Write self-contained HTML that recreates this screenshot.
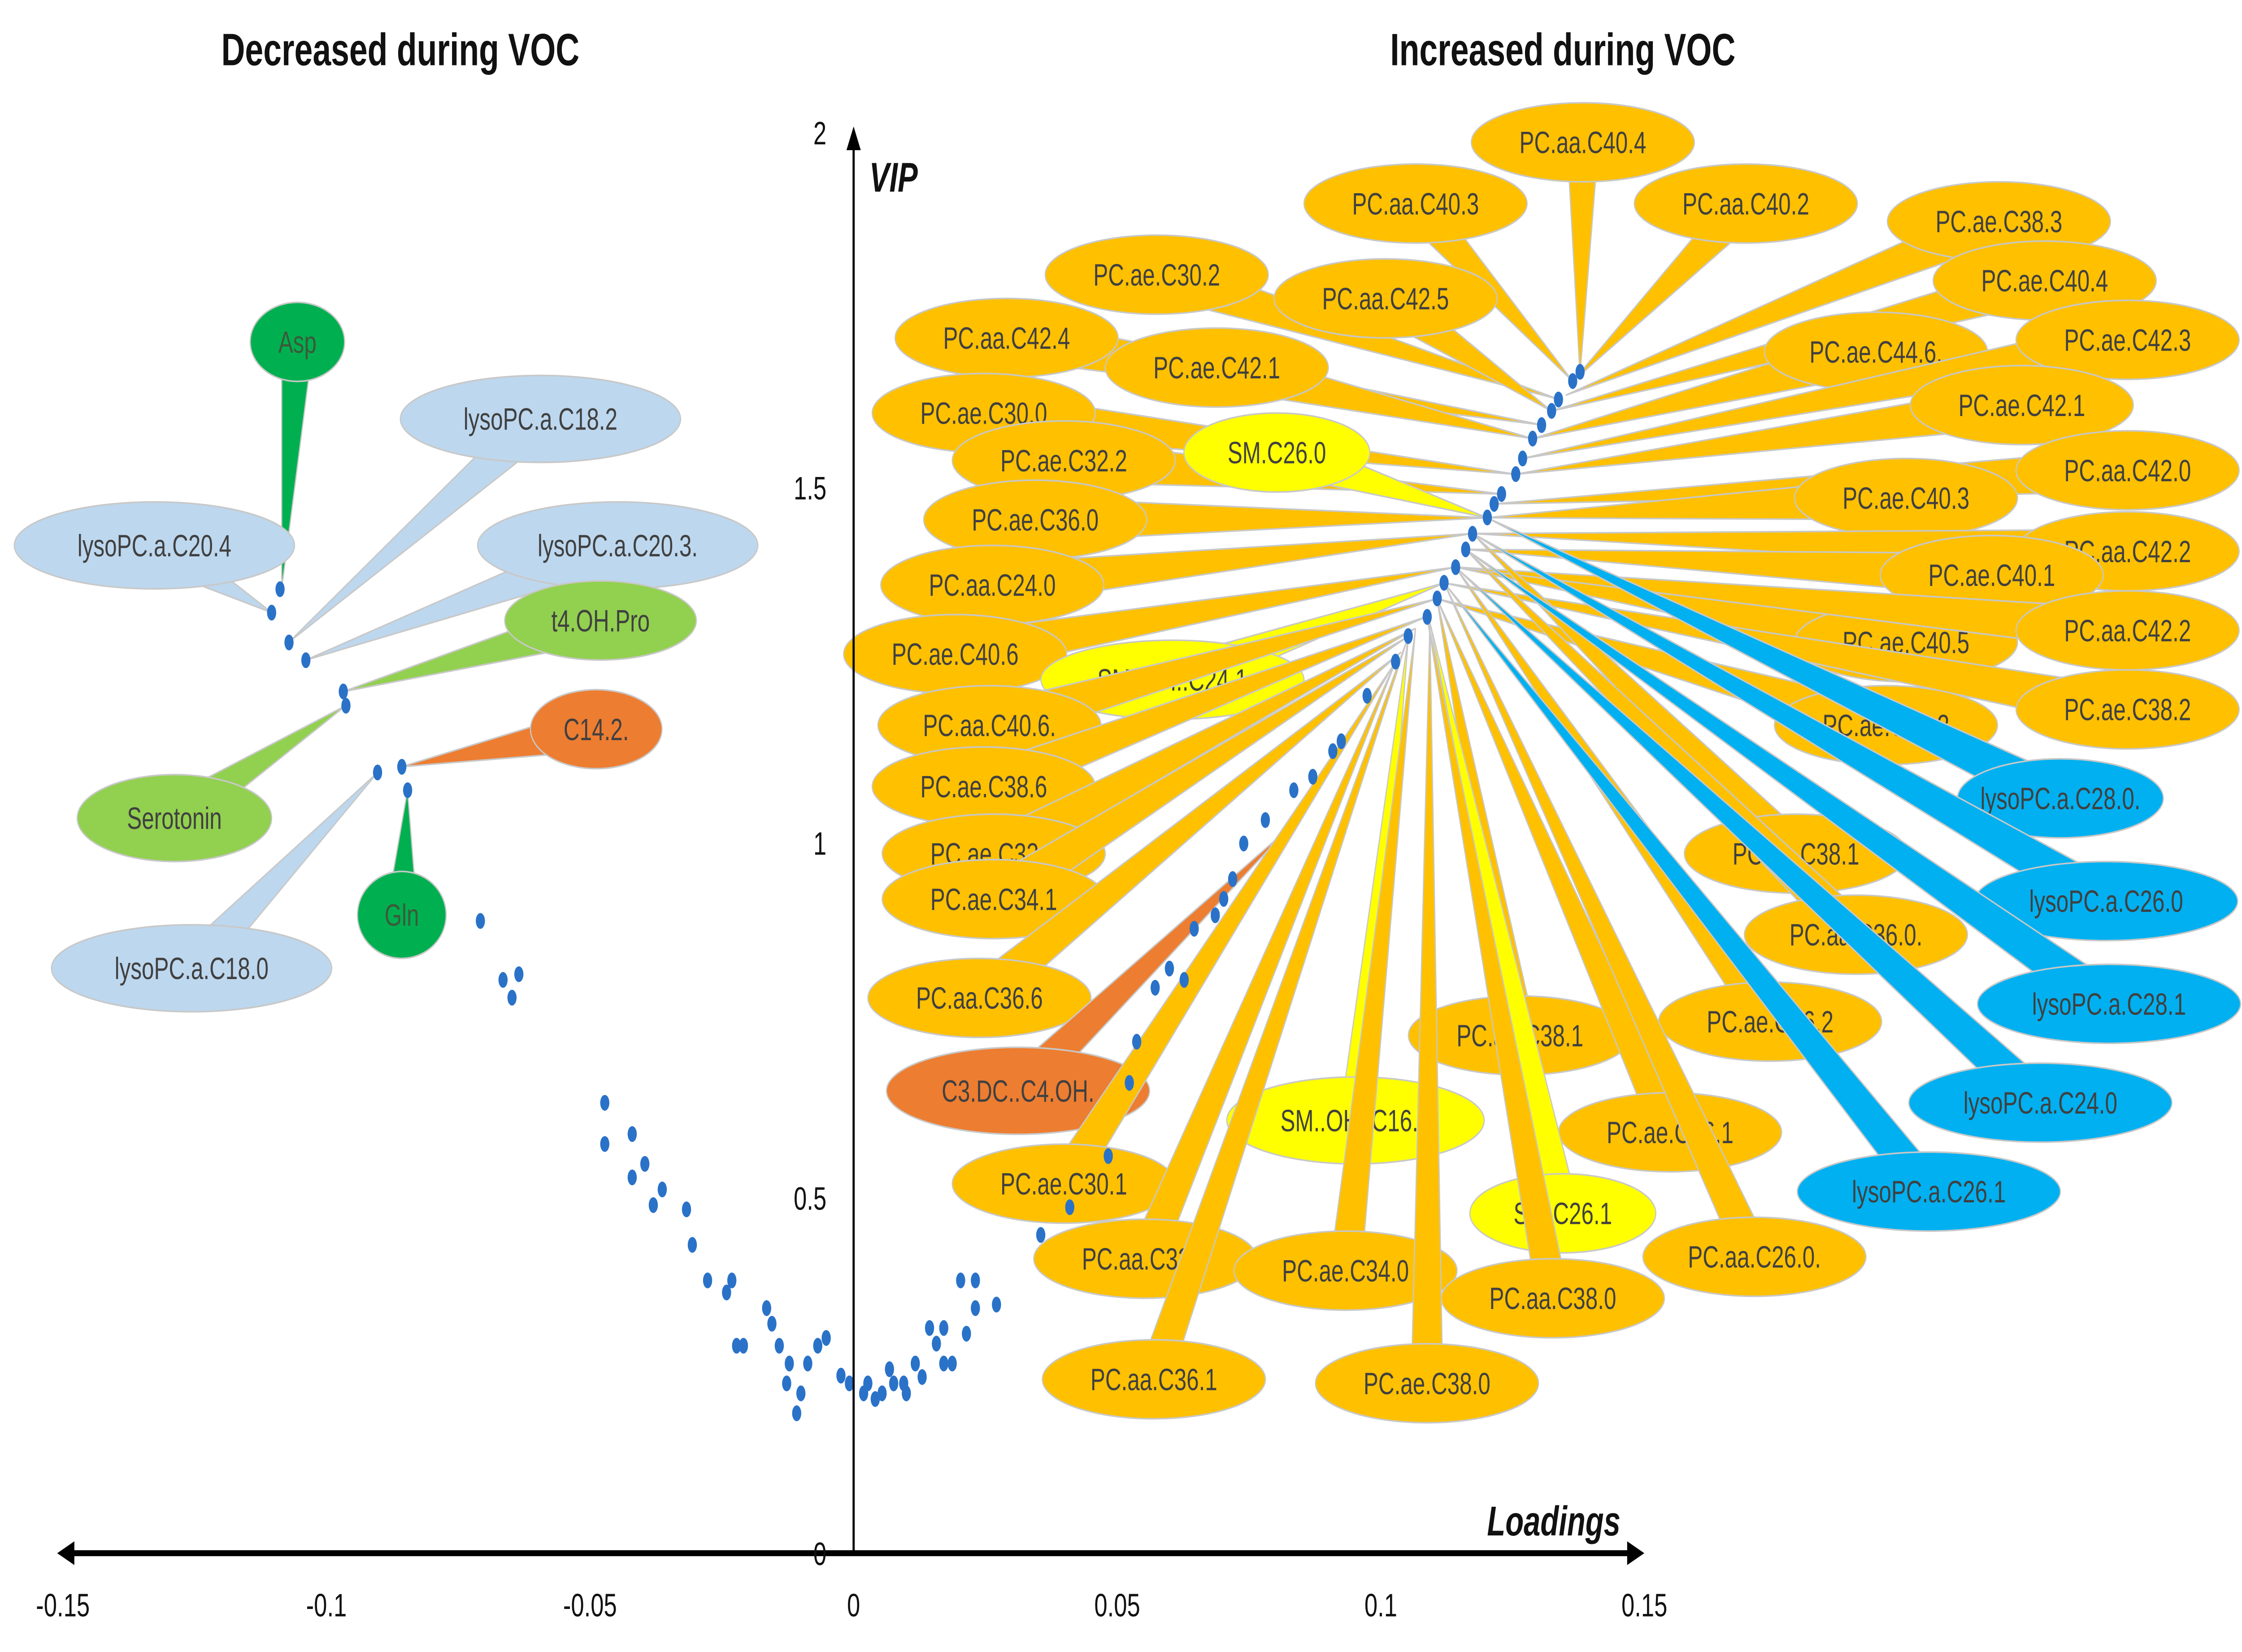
<!DOCTYPE html>
<html><head><meta charset="utf-8"><style>
html,body{margin:0;padding:0;background:#fff;width:100%;height:100%;overflow:hidden;}
#chart{display:block;position:fixed;left:0;top:0;width:100vw;height:100vh;}
text{font-family:"Liberation Sans",sans-serif;}
</style></head><body>
<svg id="chart" viewBox="0 0 1568 836" preserveAspectRatio="none" xmlns="http://www.w3.org/2000/svg">
<rect x="0" y="0" width="1568" height="836" fill="#fff"/>
<g id="labels-layer"></g>
<g id="points-layer"></g>
<g id="axes-layer"></g>
<text x="280" y="33" text-anchor="middle" font-size="23" font-weight="bold" fill="#111">Decreased during VOC</text>
<text x="1093" y="33" text-anchor="middle" font-size="23" font-weight="bold" fill="#111">Increased during VOC</text>
<text x="608" y="97" font-size="21" font-weight="bold" font-style="italic" fill="#111">VIP</text>
<text x="1040" y="777" font-size="21" font-weight="bold" font-style="italic" fill="#111">Loadings</text>
</svg>
<script>
const xTicks = [-0.15, -0.1, -0.05, 0, 0.05, 0.1, 0.15];
const xTickLabels = ["-0.15", "-0.1", "-0.05", "0", "0.05", "0.1", "0.15"];
const yTicks = [0, 0.5, 1, 1.5, 2];
const yTickLabels = ["0", "0.5", "1", "1.5", "2"];
const loadings = [-0.1088,-0.1104,-0.1071,-0.1039,-0.0968,-0.0963,-0.0903,-0.0857,-0.0846,-0.0708,-0.0665,-0.0648,-0.0635,-0.0472,-0.0472,-0.0420,-0.0420,-0.0396,-0.0380,-0.0363,-0.0317,-0.0306,-0.0277,-0.0241,-0.0231,-0.0222,-0.0209,-0.0165,-0.0155,-0.0141,-0.0127,-0.0122,-0.0100,-0.0068,-0.0052,-0.0087,-0.0108,-0.0024,-0.0008,0.0019,0.0027,0.0041,0.0054,0.0068,0.0076,0.0095,0.0117,0.0100,0.0130,0.0144,0.0157,0.0171,0.0171,0.0187,0.0214,0.0203,0.0231,0.0231,0.0271,0.0355,0.0410,0.0483,0.0523,0.0537,0.0572,0.0599,0.0627,0.0646,0.0686,0.0702,0.0719,0.0740,0.0781,0.0835,0.0871,0.0909,0.0925,0.0974,0.1028,0.1052,0.1088,0.1107,0.1120,0.1142,0.1161,0.1174,0.1202,0.1215,0.1229,0.1256,0.1269,0.1288,0.1305,0.1324,0.1337,0.1364,0.1378];
const vip = [1.357,1.324,1.282,1.257,1.213,1.193,1.099,1.107,1.074,0.890,0.807,0.782,0.815,0.634,0.576,0.590,0.529,0.548,0.490,0.512,0.484,0.434,0.384,0.367,0.384,0.292,0.292,0.345,0.323,0.292,0.239,0.267,0.225,0.292,0.303,0.267,0.197,0.250,0.239,0.225,0.239,0.217,0.225,0.259,0.239,0.239,0.267,0.225,0.248,0.317,0.295,0.317,0.267,0.267,0.309,0.384,0.384,0.345,0.350,0.448,0.487,0.559,0.662,0.720,0.796,0.823,0.807,0.879,0.898,0.921,0.949,0.999,1.032,1.074,1.093,1.129,1.143,1.207,1.255,1.291,1.318,1.344,1.366,1.388,1.413,1.435,1.458,1.477,1.491,1.519,1.541,1.569,1.588,1.608,1.624,1.650,1.663];

const NS = "http://www.w3.org/2000/svg";
const xScale = v => 597 + v * 3687;
const yScale = v => 786 - v * 359.5;
function mk(tag, attrs, parent){ const e=document.createElementNS(NS,tag); for(const k in attrs) e.setAttribute(k, attrs[k]); parent.appendChild(e); return e; }

const OR="#FFC000", LB="#BDD7EE", BB="#00B0F0", DG="#00B050", LG="#92D050", RO="#ED7D31", YE="#FFFF00";
const callouts = [
 ["Asp",208,173,33,20,DG,197,298],
 ["lysoPC.a.C18.2",378,212,98,22,LB,202,325],
 ["lysoPC.a.C20.4",108,276,98,22,LB,190,310],
 ["lysoPC.a.C20.3.",432,276,98,22,LB,214,334],
 ["t4.OH.Pro",420,314,67,20,LG,240,350],
 ["C14.2.",417,369,46,20,RO,281,388],
 ["Serotonin",122,414,68,22,LG,242,357],
 ["Gln",281,463,31,22,DG,285,400],
 ["lysoPC.a.C18.0",134,490,98,22,LB,264,391],
 ["PC.aa.C40.4",1107,72,78,20,OR,1105,190],
 ["PC.aa.C40.3",990,103,78,20,OR,1100,193],
 ["PC.aa.C40.2",1221,103,78,20,OR,1100,193],
 ["PC.ae.C38.3",1398,112,78,20,OR,1095,200],
 ["PC.ae.C30.2",809,139,78,20,OR,1090,202],
 ["PC.aa.C42.5",969,151,78,20,OR,1085,208],
 ["PC.ae.C40.4",1430,142,78,20,OR,1085,208],
 ["PC.aa.C42.4",704,171,78,20,OR,1078,215],
 ["PC.ae.C42.1",851,186,78,20,OR,1072,222],
 ["PC.ae.C44.6.",1312,178,78,20,OR,1072,222],
 ["PC.ae.C42.3",1488,172,78,20,OR,1065,232],
 ["PC.ae.C30.0",688,209,78,20,OR,1060,240],
 ["PC.ae.C42.1",1414,205,78,20,OR,1060,240],
 ["PC.ae.C32.2",744,233,78,20,OR,1050,250],
 ["SM.C26.0",893,229,65,20,YE,1040,262],
 ["PC.aa.C42.0",1488,238,78,20,OR,1045,255],
 ["PC.ae.C40.3",1333,252,78,20,OR,1040,262],
 ["PC.ae.C36.0",724,263,78,20,OR,1040,262],
 ["PC.aa.C42.2",1488,279,78,20,OR,1030,270],
 ["PC.aa.C24.0",694,296,78,20,OR,1030,270],
 ["PC.ae.C40.1",1393,291,78,20,OR,1025,278],
 ["PC.ae.C40.6",668,331,78,20,OR,1018,287],
 ["SM..OH..C24.1",820,344,92,20,YE,1010,295],
 ["PC.ae.C40.5",1333,325,78,20,OR,1018,287],
 ["PC.aa.C42.2",1488,319,78,20,OR,1018,287],
 ["PC.aa.C40.6.",692,367,78,20,OR,1005,303],
 ["PC.ae.C38.2",1488,359,78,20,OR,1010,295],
 ["PC.ae.C40.2",1319,367,78,20,OR,1005,303],
 ["PC.ae.C38.6",688,398,78,20,OR,998,312],
 ["lysoPC.a.C28.0.",1441,404,72,20,BB,1040,262],
 ["PC.ae.C32.1",695,432,78,20,OR,990,318],
 ["PC.aa.C38.1",1256,432,78,20,OR,1030,270],
 ["PC.ae.C34.1",695,455,78,20,OR,985,322],
 ["lysoPC.a.C26.0",1473,456,92,20,BB,1030,270],
 ["PC.aa.C36.0.",1298,473,78,20,OR,1025,278],
 ["PC.aa.C36.6",685,505,78,20,OR,980,330],
 ["lysoPC.a.C28.1",1475,508,92,20,BB,1025,278],
 ["PC.ae.C36.2",1238,517,78,20,OR,1018,287],
 ["PC.ae.C38.1",1063,524,78,20,OR,1005,303],
 ["C3.DC..C4.OH.",712,552,92,22,RO,900,420],
 ["lysoPC.a.C24.0",1427,558,92,20,BB,1018,287],
 ["SM..OH..C16.1",948,567,90,22,YE,985,322],
 ["PC.ae.C36.1",1168,573,78,20,OR,1005,303],
 ["PC.ae.C30.1",744,599,78,20,OR,976,335],
 ["lysoPC.a.C26.1",1349,603,92,20,BB,1010,295],
 ["SM.C26.1",1093,614,65,20,YE,1000,315],
 ["PC.aa.C32.3",801,637,78,20,OR,976,335],
 ["PC.aa.C26.0.",1227,636,78,20,OR,1010,295],
 ["PC.ae.C34.0",941,643,78,20,OR,990,318],
 ["PC.aa.C38.0",1086,657,78,20,OR,998,312],
 ["PC.aa.C36.1",807,698,78,20,OR,985,322],
 ["PC.ae.C38.0",998,700,78,20,OR,1000,315]
];
const LL = document.getElementById("labels-layer");
callouts.forEach(c => {
  const [t,cx,cy,rx,ry,fill,tx,ty] = c;
  const g = mk("g", {}, LL);
  
  
  const dx=cx-tx, dy=cy-ty, L=Math.hypot(dx,dy)||1;
  const nx=-dy/L, ny=dx/L, w=Math.min(ry*0.6,11);
  mk("polygon",{points:`${tx},${ty} ${cx+nx*w},${cy+ny*w} ${cx-nx*w},${cy-ny*w}`,fill:fill,stroke:"#c8c8c8","stroke-width":"0.8"},g);
  mk("ellipse",{cx:cx,cy:cy,rx:rx,ry:ry,fill:fill,stroke:"#c8c8c8","stroke-width":"0.8"},g);
  const tc = (fill===DG)?"#3a5a3a":"#404040";
  const tx_ = mk("text",{x:cx,y:cy+5.5,"text-anchor":"middle","font-size":"15.5",fill:tc},g);
  tx_.textContent = t;
});

const PL = document.getElementById("points-layer");
loadings.forEach((v,i) => {
  const e = mk("ellipse",{cx:xScale(v),cy:yScale(vip[i]),rx:3.2,ry:4,fill:"#2A72C8"},PL);
  
  
});

const AX = document.getElementById("axes-layer");
const xl = mk("line",{x1:48,y1:786,x2:1140,y2:786,stroke:"#000","stroke-width":"3"},AX);


mk("polygon",{points:"40,786 52,780 52,792",fill:"#000"},AX);
mk("polygon",{points:"1150,786 1138,780 1138,792",fill:"#000"},AX);
const yl = mk("line",{x1:597,y1:786,x2:597,y2:72,stroke:"#000","stroke-width":"1.5"},AX);


mk("polygon",{points:"597,64 592,76 602,76",fill:"#000"},AX);
xTicks.forEach((v,i) => {
  const t = mk("text",{x:xScale(v),y:818,"text-anchor":"middle","font-size":"16.5",fill:"#111"},AX);
  
  
  t.textContent = xTickLabels[i];
});
yTicks.forEach((v,i) => {
  const t = mk("text",{x:578,y:yScale(v)+6,"text-anchor":"end","font-size":"16.5",fill:"#111"},AX);
  
  
  t.textContent = yTickLabels[i];
});
</script>
</body></html>
